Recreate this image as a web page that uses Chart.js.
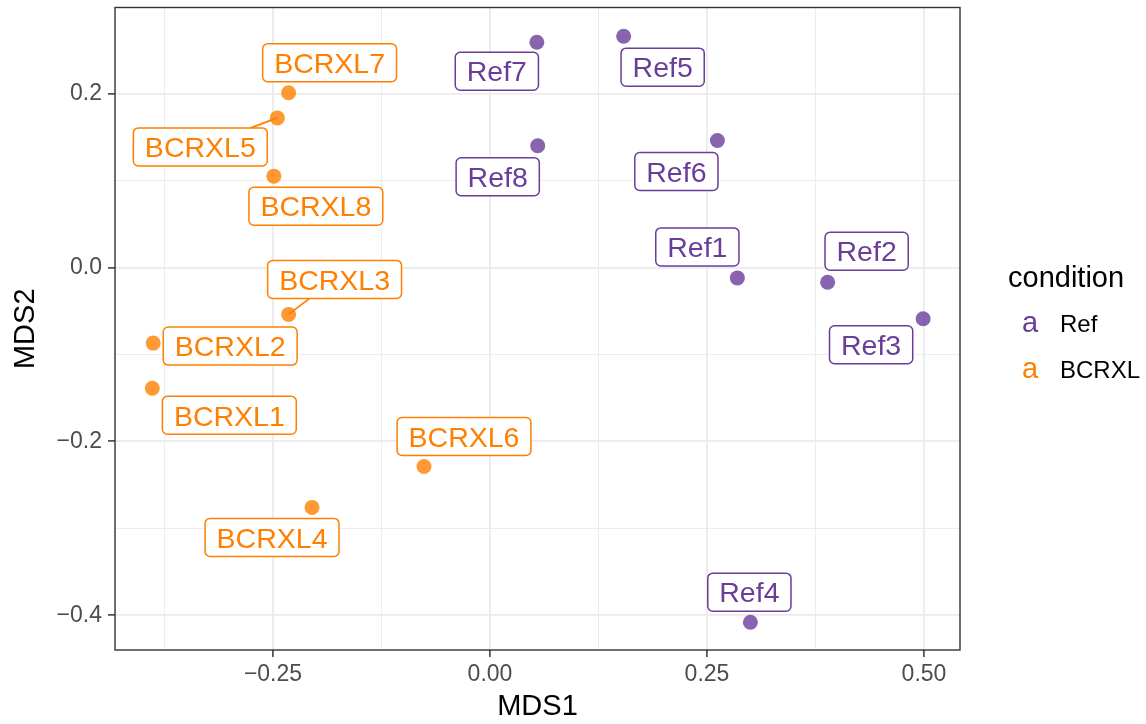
<!DOCTYPE html>
<html>
<head>
<meta charset="utf-8">
<script src="https://cdn.jsdelivr.net/npm/chart.js@4.4.1/dist/chart.umd.min.js"></script>
<style>
  html, body { margin: 0; padding: 0; background: #fff; }
  #wrap { width: 1146px; height: 724px; }
</style>
</head>
<body>
<div id="wrap"><canvas id="mds"></canvas></div>
<script>
const FONT = '"Liberation Sans", Arial, Helvetica, sans-serif';

// sample names and MDS coordinates
const refNames = ['Ref1', 'Ref2', 'Ref3', 'Ref4', 'Ref5', 'Ref6', 'Ref7', 'Ref8'];
const refX = [0.285, 0.389, 0.499, 0.300, 0.154, 0.262, 0.054, 0.055];
const refY = [-0.012, -0.017, -0.059, -0.408, 0.266, 0.146, 0.259, 0.140];

const bcNames = ['BCRXL1', 'BCRXL2', 'BCRXL3', 'BCRXL4', 'BCRXL5', 'BCRXL6', 'BCRXL7', 'BCRXL8'];
const bcX = [-0.389, -0.388, -0.232, -0.205, -0.245, -0.076, -0.232, -0.249];
const bcY = [-0.139, -0.087, -0.054, -0.276, 0.172, -0.229, 0.201, 0.105];

const xTicks = [-0.375, -0.25, -0.125, 0, 0.125, 0.25, 0.375, 0.5];
const yTicks = [-0.4, -0.3, -0.2, -0.1, 0, 0.1, 0.2];

// where each label box sits, in px from its point (repel result)
const refOffsets = [[-40, -31], [39, -31], [-52, 26], [-1, -30], [39, 31], [-41, 31], [-40, 29], [-40, 31]];
const bcOffsets = [[77, 27], [77, 3], [46, -35], [-40, 30], [-77, 29], [40, -30], [41, -30], [42, 30]];

const PURPLE = '#6a3d9a';
const ORANGE = '#ff7f00';

const isMajorX = v => Math.abs(v * 4 - Math.round(v * 4)) < 1e-6;
const isMajorY = v => Math.abs(v * 5 - Math.round(v * 5)) < 1e-6;
const fmt = (v, d) => v.toFixed(d).replace('-', '\u2212');

const toPoints = (xs, ys) => xs.map((x, i) => ({ x: x, y: ys[i] }));

const repelLabels = {
  id: 'repelLabels',
  afterDatasetsDraw(chart) {
    const ctx = chart.ctx;
    const fs = 28.5;
    ctx.save();
    ctx.font = fs + 'px ' + FONT;
    chart.data.datasets.forEach((ds, di) => {
      const meta = chart.getDatasetMeta(di);
      meta.data.forEach((pt, i) => {
        const [dx, dy] = ds.offsets[i];
        const cx = pt.x + dx, cy = pt.y + dy;
        const w = ctx.measureText(ds.names[i]).width + 23, h = 38;
        const l = cx - w / 2, t = cy - h / 2;
        // segment only when the point is clearly away from the box
        const nx = Math.max(l, Math.min(pt.x, l + w));
        const ny = Math.max(t, Math.min(pt.y, t + h));
        if (Math.hypot(pt.x - nx, pt.y - ny) > 13.2) {
          const s = Math.min(dx ? (w / 2) / Math.abs(dx) : Infinity, dy ? (h / 2) / Math.abs(dy) : Infinity);
          ctx.beginPath();
          ctx.moveTo(pt.x, pt.y);
          ctx.lineTo(cx - dx * s, cy - dy * s);
          ctx.strokeStyle = ds.labelColor;
          ctx.lineWidth = 1.8;
          ctx.stroke();
        }
        ctx.beginPath();
        ctx.roundRect(l, t, w, h, 5);
        ctx.fillStyle = '#fff';
        ctx.fill();
        ctx.strokeStyle = ds.labelColor;
        ctx.lineWidth = 1.5;
        ctx.stroke();
        ctx.fillStyle = ds.labelColor;
        ctx.textAlign = 'center';
        ctx.textBaseline = 'alphabetic';
        ctx.fillText(ds.names[i], cx, cy + fs * 0.716 / 2);
      });
    });
    ctx.restore();
  }
};

const panelAndLegend = {
  id: 'panelAndLegend',
  afterDraw(chart) {
    const ctx = chart.ctx;
    const a = chart.chartArea;
    ctx.save();
    ctx.strokeStyle = '#333333';
    ctx.lineWidth = 1.4;
    ctx.strokeRect(a.left, a.top, a.right - a.left, a.bottom - a.top);

    const lx = a.right + 48;
    ctx.textBaseline = 'alphabetic';
    ctx.textAlign = 'left';
    ctx.fillStyle = '#000';
    ctx.font = '29px ' + FONT;
    ctx.fillText('condition', lx, 287);
    chart.data.datasets.forEach((ds, i) => {
      const y = 332 + i * 46;
      ctx.font = '29px ' + FONT;
      ctx.fillStyle = ds.labelColor;
      ctx.textAlign = 'center';
      ctx.fillText('a', lx + 22, y);
      ctx.font = '24px ' + FONT;
      ctx.fillStyle = '#000';
      ctx.textAlign = 'left';
      ctx.fillText(ds.label, lx + 52, y);
    });
    ctx.restore();
  }
};

new Chart(document.getElementById('mds'), {
  type: 'scatter',
  data: {
    datasets: [
      {
        label: 'Ref',
        data: toPoints(refX, refY),
        names: refNames,
        offsets: refOffsets,
        labelColor: PURPLE,
        backgroundColor: 'rgba(106,61,154,0.8)',
        borderWidth: 0,
        pointRadius: 7.5
      },
      {
        label: 'BCRXL',
        data: toPoints(bcX, bcY),
        names: bcNames,
        offsets: bcOffsets,
        labelColor: ORANGE,
        backgroundColor: 'rgba(255,127,0,0.8)',
        borderWidth: 0,
        pointRadius: 7.5
      }
    ]
  },
  options: {
    responsive: true,
    maintainAspectRatio: false,
    animation: false,
    layout: { padding: { left: 0, top: 7, right: 186, bottom: 0 } },
    plugins: { legend: { display: false }, tooltip: { enabled: false } },
    scales: {
      x: {
        type: 'linear',
        min: -0.432,
        max: 0.5415,
        afterBuildTicks: s => { s.ticks = xTicks.map(v => ({ value: v })); },
        afterFit: s => { s.height = 74; s.paddingLeft = 0; s.paddingRight = 0; },
        border: { display: false },
        grid: {
          color: '#ebebeb',
          lineWidth: c => isMajorX(c.tick.value) ? 1.8 : 0.9,
          tickLength: 7,
          tickWidth: 1.5,
          tickColor: c => isMajorX(c.tick.value) ? '#333333' : 'rgba(0,0,0,0)'
        },
        ticks: {
          autoSkip: false,
          maxRotation: 0,
          padding: 4,
          color: '#4d4d4d',
          font: { family: FONT, size: 23 },
          callback: v => isMajorX(v) ? fmt(v, 2) : ''
        },
        title: {
          display: true,
          text: 'MDS1',
          color: '#000',
          font: { family: FONT, size: 29 },
          padding: { top: 0, bottom: 0 }
        }
      },
      y: {
        type: 'linear',
        min: -0.440,
        max: 0.299,
        afterBuildTicks: s => { s.ticks = yTicks.map(v => ({ value: v })); },
        afterFit: s => { s.width = 115; s.paddingTop = 0; s.paddingBottom = 0; },
        border: { display: false },
        grid: {
          color: '#ebebeb',
          lineWidth: c => isMajorY(c.tick.value) ? 1.8 : 0.9,
          tickLength: 7,
          tickWidth: 1.5,
          tickColor: c => isMajorY(c.tick.value) ? '#333333' : 'rgba(0,0,0,0)'
        },
        ticks: {
          autoSkip: false,
          padding: 6,
          color: '#4d4d4d',
          font: { family: FONT, size: 23 },
          callback: v => isMajorY(v) ? fmt(v, 1) : ''
        },
        title: {
          display: true,
          text: 'MDS2',
          color: '#000',
          font: { family: FONT, size: 29 },
          padding: { top: 9, bottom: 0 }
        }
      }
    }
  },
  plugins: [repelLabels, panelAndLegend]
});
</script>
</body>
</html>
